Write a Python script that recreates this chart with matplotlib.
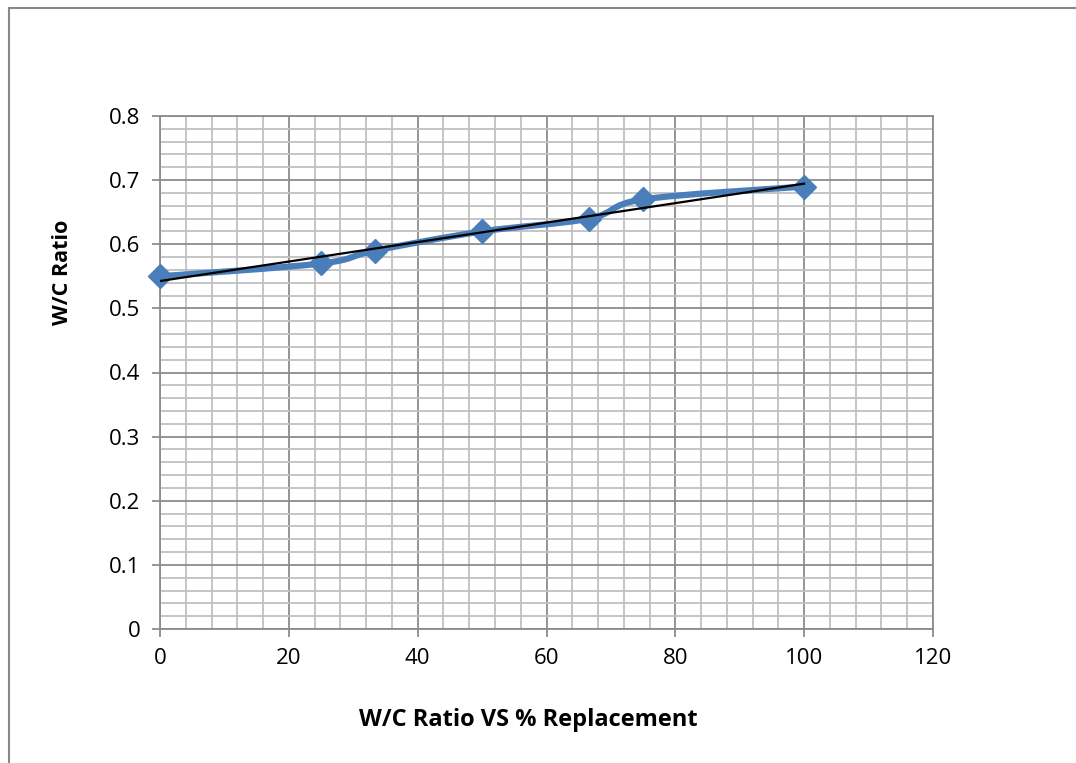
import numpy as np
import matplotlib.pyplot as plt
from matplotlib.path import Path
from matplotlib.patches import PathPatch, Rectangle
from matplotlib.ticker import MultipleLocator

# % replacement vs measured W/C ratio
replacement = [0, 25, 33.33, 50, 66.67, 75, 100]
wc_ratio = [0.55, 0.57, 0.59, 0.62, 0.64, 0.67, 0.69]

x_ticks = [0, 20, 40, 60, 80, 100, 120]
y_ticks = [0, 0.1, 0.2, 0.3, 0.4, 0.5, 0.6, 0.7, 0.8]

BLUE = "#4A7EBB"
FONT = ["Open Sans", "DejaVu Sans"]


def smooth_path(xs, ys):
    """Cubic Bezier through the points (spreadsheet style smoothed line)."""
    pts = np.column_stack([xs, ys])
    n = len(pts)
    verts = [pts[0]]
    codes = [Path.MOVETO]
    for i in range(n - 1):
        p0 = pts[i - 1] if i > 0 else pts[i]
        p1 = pts[i]
        p2 = pts[i + 1]
        p3 = pts[i + 2] if i + 2 < n else pts[i + 1]
        c1 = p1 + (p2 - p0) / 6.0
        c2 = p2 - (p3 - p1) / 6.0
        verts += [c1, c2, p2]
        codes += [Path.CURVE4] * 3
    return Path(verts, codes)


fig = plt.figure(figsize=(10.76, 7.63), dpi=100)
fig.patches.append(Rectangle((8.5 / 1076, -0.1), 1.2, 1.1 - 8.5 / 763,
                             transform=fig.transFigure, fill=False,
                             edgecolor="#888888", linewidth=1.5))

ax = fig.add_axes([160 / 1076, 1 - 629 / 763, 773 / 1076, 513 / 763])
ax.set_xlim(0, 120)
ax.set_ylim(0, 0.8)

ax.xaxis.set_minor_locator(MultipleLocator(4))
ax.yaxis.set_minor_locator(MultipleLocator(0.02))
ax.set_xticks(x_ticks)
ax.set_yticks(y_ticks)
ax.set_xticklabels([str(v) for v in x_ticks])
ax.set_yticklabels(["0" if v == 0 else f"{v:.1f}" for v in y_ticks])

ax.grid(which="minor", color="#C0C0C0", linewidth=1.3, zorder=0)
ax.grid(which="major", color="#8C8C8C", linewidth=1.3, zorder=0.5)
ax.set_axisbelow(True)

for side, sp in ax.spines.items():
    sp.set_color("#8C8C8C")
    sp.set_linewidth(1.3)

ax.tick_params(which="major", length=6, width=1.3, color="#8C8C8C",
               labelsize=16, pad=8)
ax.tick_params(which="minor", length=0)
for lab in ax.get_xticklabels() + ax.get_yticklabels():
    lab.set_family(FONT)

# smoothed data line with diamond markers
ax.add_patch(PathPatch(smooth_path(replacement, wc_ratio), facecolor="none",
                       edgecolor=BLUE, linewidth=4.5, zorder=3))
ax.plot(replacement, wc_ratio, linestyle="none", marker="D", markersize=12,
        color=BLUE, zorder=4, clip_on=False)

# linear trendline
slope, intercept = np.polyfit(replacement, wc_ratio, 1)
tx = np.array([replacement[0], replacement[-1]])
ax.plot(tx, slope * tx + intercept, color="black", linewidth=1.6, zorder=5)

fig.text(528 / 1076, 1 - 720 / 763, "W/C Ratio VS % Replacement",
         ha="center", va="center", fontsize=17, fontweight="bold", family=FONT)
fig.text(62 / 1076, 1 - 272 / 763, "W/C Ratio", ha="center", va="center",
         rotation=90, fontsize=15.5, fontweight="bold", family=FONT)

fig.savefig("out.png", dpi=100)
